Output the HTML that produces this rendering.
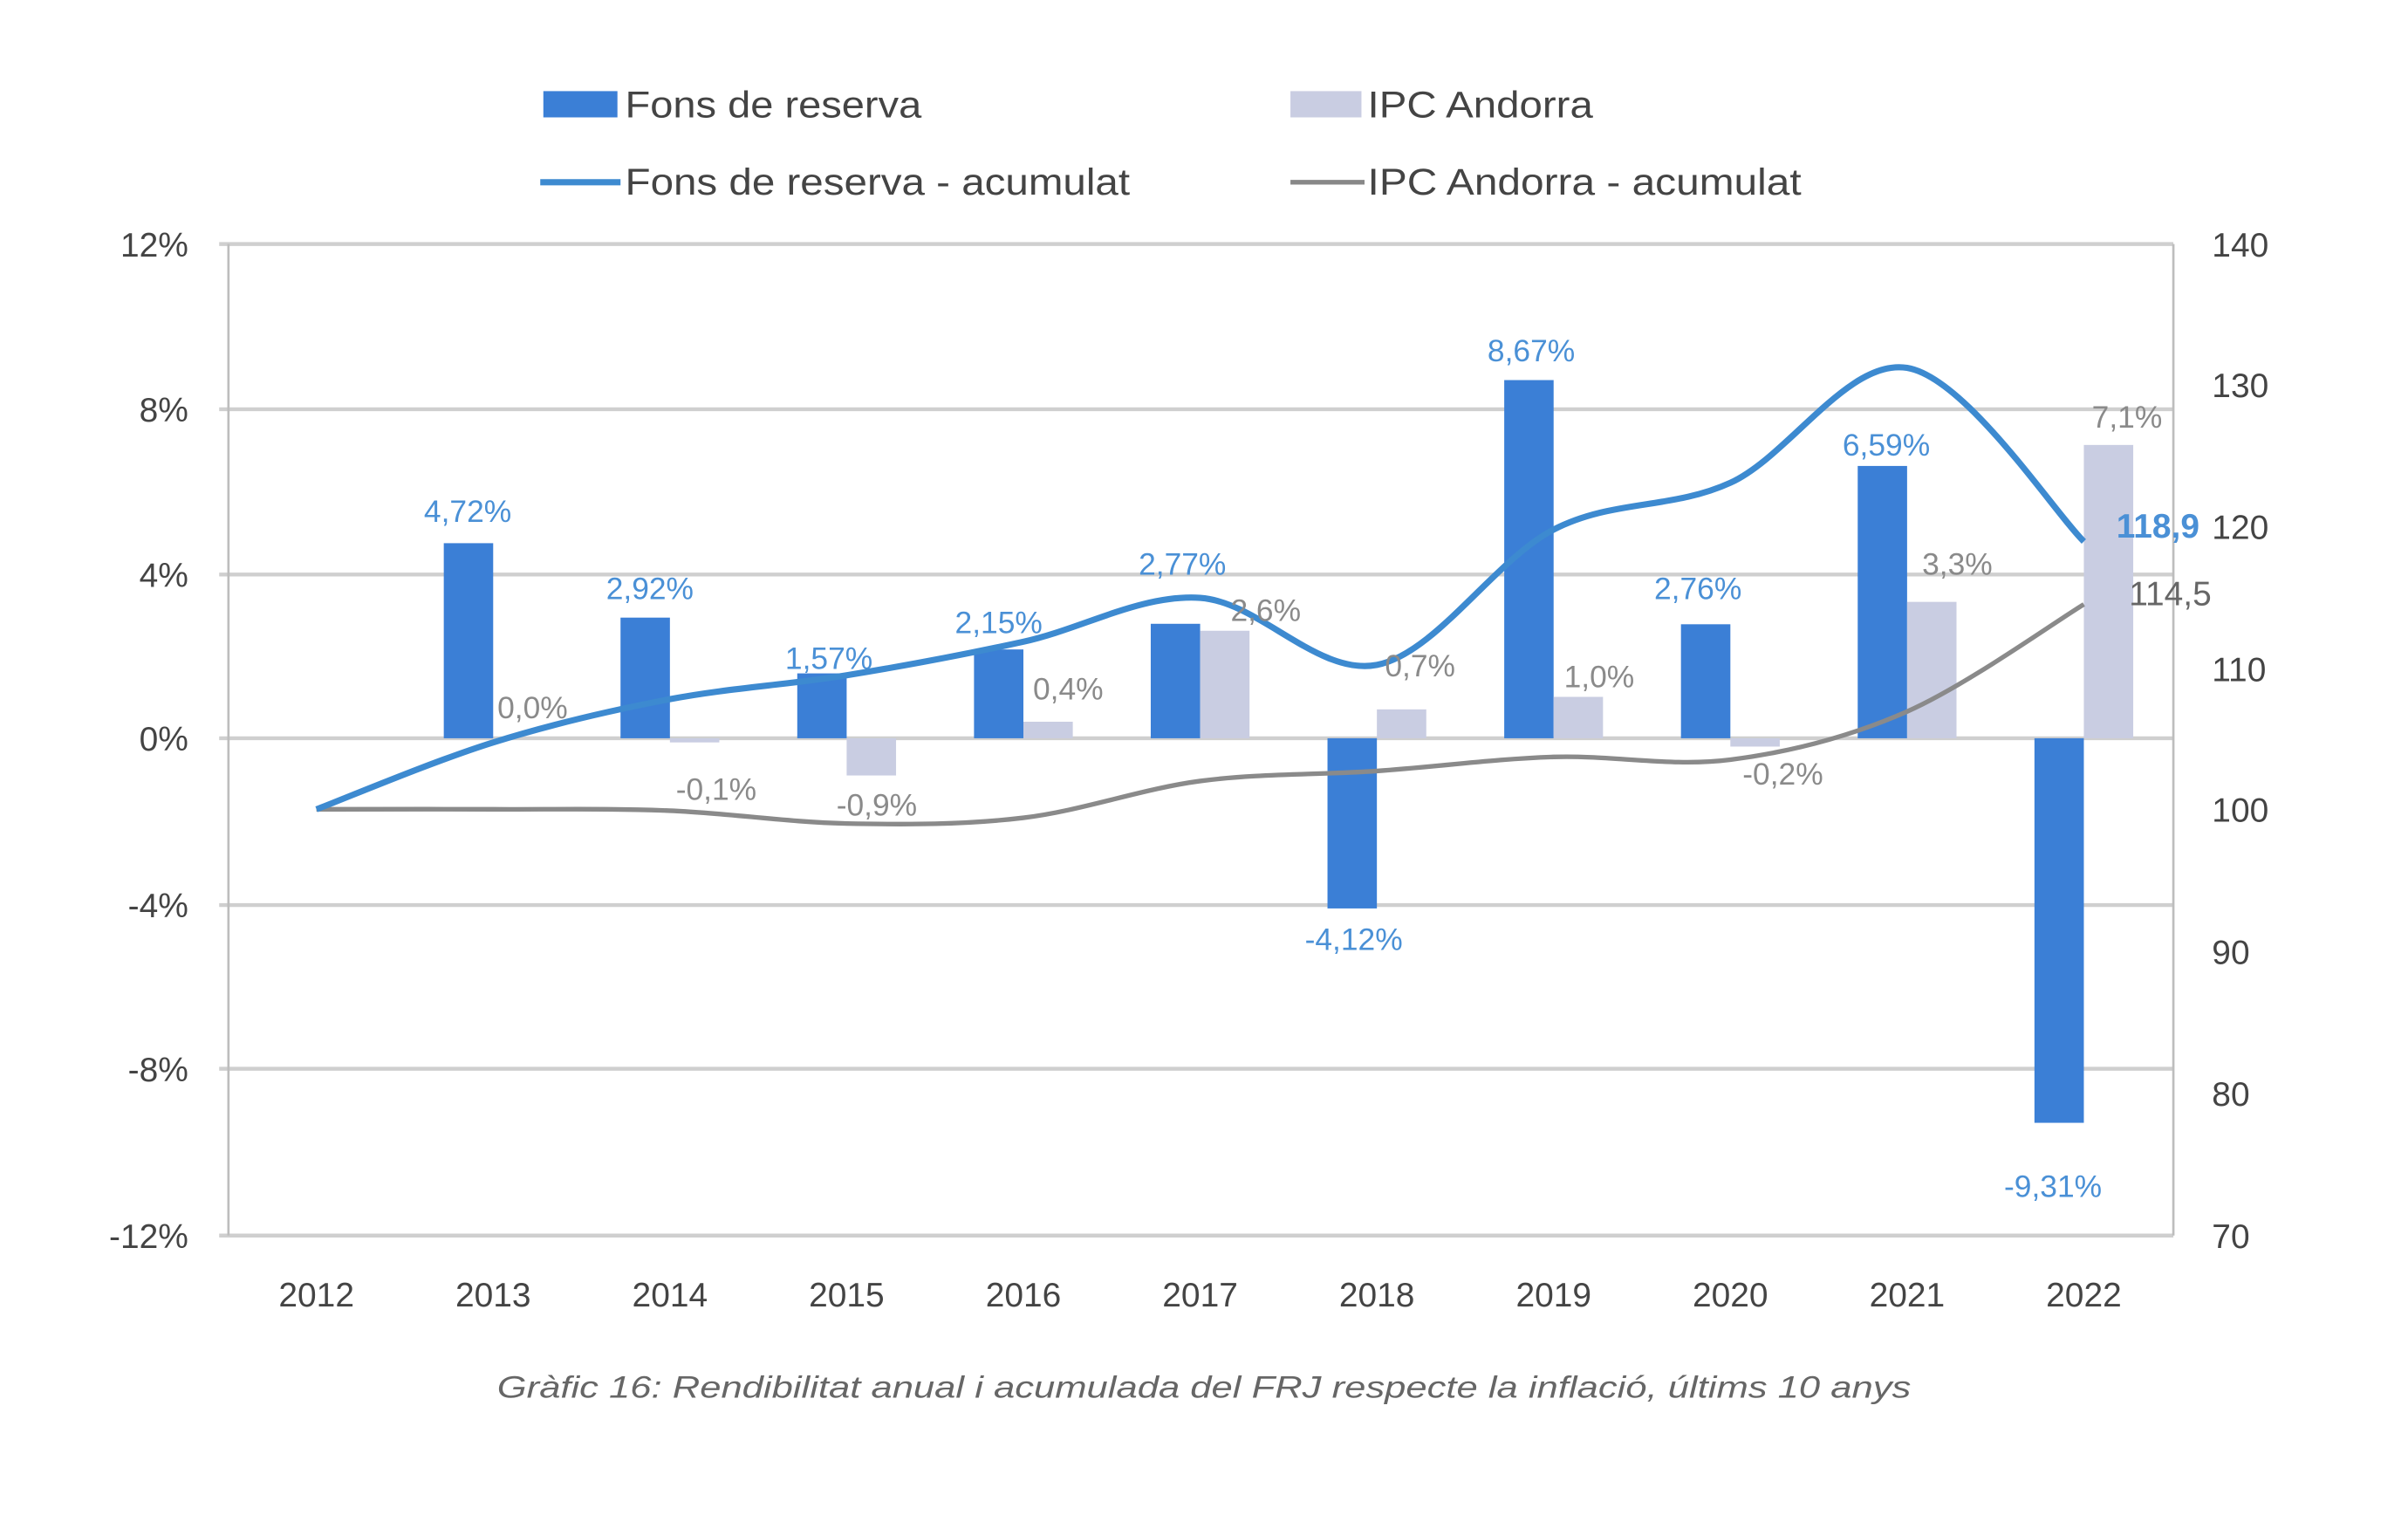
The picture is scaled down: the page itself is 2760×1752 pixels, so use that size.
<!DOCTYPE html>
<html><head><meta charset="utf-8"><style>
html,body{margin:0;padding:0;background:#fff;}
svg{display:block;}
text{font-family:"Liberation Sans",sans-serif;}
</style></head><body>
<svg id="s" width="2760" height="1752" viewBox="0 0 1560 990" preserveAspectRatio="none" xmlns="http://www.w3.org/2000/svg">
<rect width="1560" height="990" fill="#fff"/>
<!-- legend -->
<rect x="352" y="59" width="48" height="17" fill="#3b7fd6"/>
<text x="405" y="76" font-size="24" fill="#444" textLength="192" lengthAdjust="spacingAndGlyphs">Fons de reserva</text>
<rect x="836" y="59" width="46" height="17" fill="#c9cde2"/>
<text x="886" y="76" font-size="24" fill="#444" textLength="146" lengthAdjust="spacingAndGlyphs">IPC Andorra</text>
<line x1="350" y1="118" x2="402" y2="118" stroke="#3d8ad0" stroke-width="4"/>
<text x="405" y="126" font-size="24" fill="#444" textLength="327" lengthAdjust="spacingAndGlyphs">Fons de reserva - acumulat</text>
<line x1="836" y1="118" x2="884" y2="118" stroke="#888" stroke-width="3"/>
<text x="886" y="126" font-size="24" fill="#444" textLength="281" lengthAdjust="spacingAndGlyphs">IPC Andorra - acumulat</text>
<!-- grid -->
<g stroke="#cfcfcf" stroke-width="2.5">
<line x1="142" y1="158" x2="1408" y2="158"/>
<line x1="142" y1="265" x2="1408" y2="265"/>
<line x1="142" y1="372" x2="1408" y2="372"/>
<line x1="142" y1="478" x2="1408" y2="478"/>
<line x1="142" y1="586" x2="1408" y2="586"/>
<line x1="142" y1="692" x2="1408" y2="692"/>
<line x1="142" y1="800" x2="1408" y2="800"/>
</g>
<line x1="148" y1="158" x2="148" y2="800" stroke="#bdbdbd" stroke-width="1.5"/>
<line x1="1408" y1="158" x2="1408" y2="800" stroke="#bdbdbd" stroke-width="1.5"/>
<g font-size="22" fill="#444" text-anchor="end">
<text x="122" y="166">12%</text><text x="122" y="273">8%</text><text x="122" y="380">4%</text>
<text x="122" y="486">0%</text><text x="122" y="594">-4%</text><text x="122" y="700">-8%</text><text x="122" y="808">-12%</text>
</g>
<g font-size="22" fill="#444">
<text x="1433" y="166">140</text><text x="1433" y="257">130</text><text x="1433" y="349">120</text>
<text x="1433" y="441">110</text><text x="1433" y="532">100</text><text x="1433" y="624">90</text>
<text x="1433" y="716">80</text><text x="1433" y="808">70</text>
</g>
<g font-size="22" fill="#444" text-anchor="middle">
<text x="205" y="846">2012</text><text x="319.5" y="846">2013</text><text x="434" y="846">2014</text>
<text x="548.5" y="846">2015</text><text x="663" y="846">2016</text><text x="777.5" y="846">2017</text>
<text x="892" y="846">2018</text><text x="1006.5" y="846">2019</text><text x="1121" y="846">2020</text>
<text x="1235.5" y="846">2021</text><text x="1350" y="846">2022</text>
</g>
<!-- bars -->
<g fill="#3b7fd6">
<rect x="287.5" y="351.7" width="32" height="126.3"/>
<rect x="402" y="399.9" width="32" height="78.1"/>
<rect x="516.5" y="436" width="32" height="42"/>
<rect x="631" y="420.5" width="32" height="57.5"/>
<rect x="745.5" y="403.9" width="32" height="74.1"/>
<rect x="860" y="478" width="32" height="110.2"/>
<rect x="974.5" y="246.1" width="32" height="231.9"/>
<rect x="1089" y="404.2" width="32" height="73.8"/>
<rect x="1203.5" y="301.7" width="32" height="176.3"/>
<rect x="1318" y="478" width="32" height="249"/>
</g>
<g fill="#c9cde2">
<rect x="434" y="478" width="32" height="2.7"/>
<rect x="548.5" y="478" width="32" height="24.1"/>
<rect x="663" y="467.3" width="32" height="10.7"/>
<rect x="777.5" y="408.4" width="32" height="69.6"/>
<rect x="892" y="459.3" width="32" height="18.7"/>
<rect x="1006.5" y="451.2" width="32" height="26.8"/>
<rect x="1121" y="478" width="32" height="5.4"/>
<rect x="1235.5" y="389.7" width="32" height="88.3"/>
<rect x="1350" y="288.1" width="32" height="189.9"/>
</g>
<!-- lines -->
<path id="gl" d="M205,524 L319.5,524 L434,524.9 L548.5,533.2 L663,529.5 L777.5,505.7 L892,499.2 L1006.5,490.1 L1121,491.9 L1235.5,460.7 L1350,391.3" fill="none" stroke="#8a8a8a" stroke-width="3"/>
<path id="bl" d="M205,524 L319.5,480.7 L434,452.7 L548.5,437.2 L663,415.5 L777.5,387.1 L892,430.5 L1006.5,342.9 L1121,312.6 L1235.5,238.2 L1350,350.6" fill="none" stroke="#3d8ad0" stroke-width="4"/>
<!-- data labels -->
<g font-size="20" text-anchor="middle" fill="#4a90d6">
<text x="303" y="338">4,72%</text><text x="421" y="388">2,92%</text><text x="537" y="433">1,57%</text>
<text x="647" y="410">2,15%</text><text x="766" y="372">2,77%</text><text x="877" y="615">-4,12%</text>
<text x="992" y="234">8,67%</text><text x="1100" y="388">2,76%</text><text x="1222" y="295">6,59%</text>
<text x="1330" y="775">-9,31%</text>
<text x="1398" y="348" font-weight="bold" font-size="22">118,9</text>
</g>
<g font-size="20" text-anchor="middle" fill="#8a8a8a">
<text x="345" y="465">0,0%</text><text x="464" y="518">-0,1%</text><text x="568" y="528">-0,9%</text>
<text x="692" y="453">0,4%</text><text x="820" y="402">2,6%</text><text x="920" y="438">0,7%</text>
<text x="1036" y="445">1,0%</text><text x="1155" y="508">-0,2%</text><text x="1268" y="372">3,3%</text>
<text x="1378" y="277">7,1%</text><text x="1406" y="392" font-size="22" fill="#666">114,5</text>
</g>
<text x="322" y="905" font-size="20" font-style="italic" fill="#666" textLength="916" lengthAdjust="spacingAndGlyphs">Gràfic 16: Rendibilitat anual i acumulada del FRJ respecte la inflació, últims 10 anys</text>
</svg>
<script>
function smooth(id){var p=document.getElementById(id);var pts=p.getAttribute('d').replace(/[ML]/g,' ').trim().split(/\s+/).map(function(s){return s.split(',').map(Number);});
var d='M'+pts[0][0]+','+pts[0][1];
for(var i=0;i<pts.length-1;i++){var p0=pts[i-1]||pts[i],p1=pts[i],p2=pts[i+1],p3=pts[i+2]||p2;
var c1=[p1[0]+(p2[0]-p0[0])/6,p1[1]+(p2[1]-p0[1])/6],c2=[p2[0]-(p3[0]-p1[0])/6,p2[1]-(p3[1]-p1[1])/6];
d+=' C'+c1.join(',')+' '+c2.join(',')+' '+p2.join(',');}
p.setAttribute('d',d);}
smooth('gl');smooth('bl');
</script>
</body></html>
